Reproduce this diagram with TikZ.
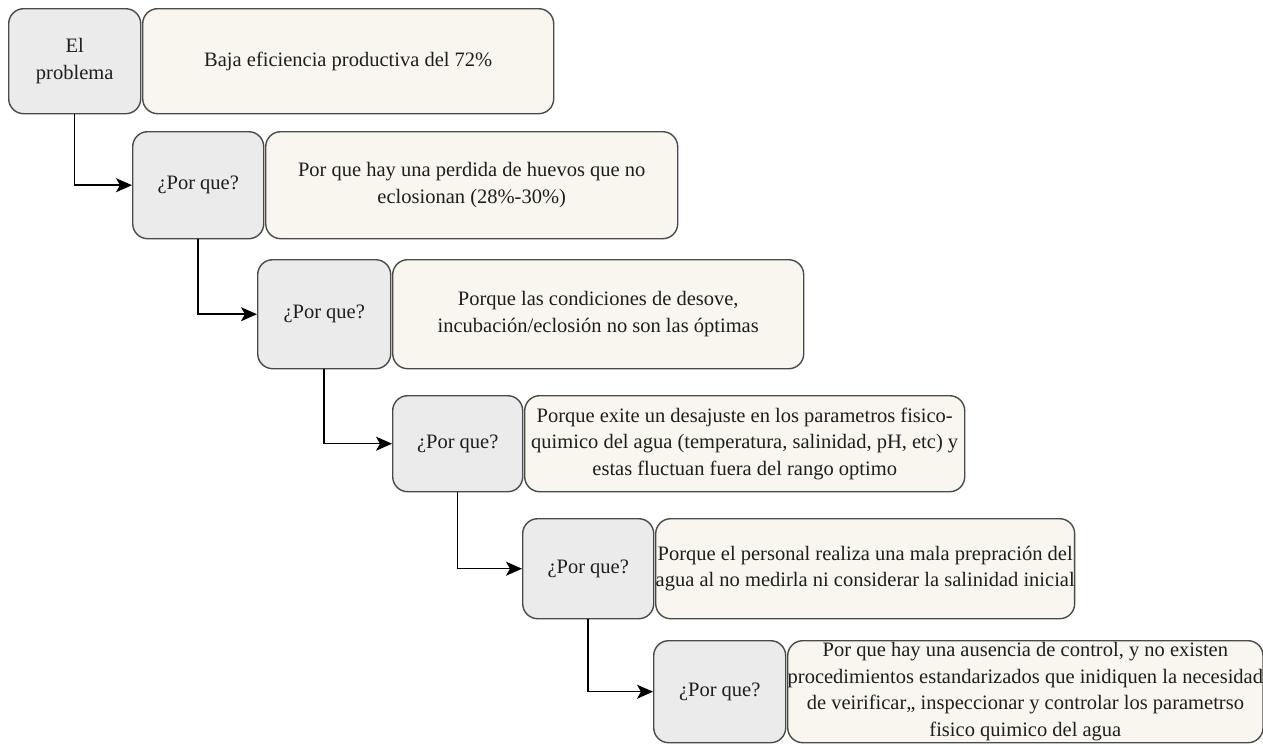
\documentclass[tikz,border=0pt]{standalone}
\usepackage{fontspec}
\setmainfont{Liberation Serif}
\usetikzlibrary{arrows.meta}

\definecolor{edge}{HTML}{4A4A4A}
\definecolor{qfill}{HTML}{EBEBEB}
\definecolor{afill}{HTML}{F9F6EF}
\definecolor{ink}{HTML}{1E1E1E}

\tikzset{
  basebox/.style={draw=edge, line width=1.4pt, rounded corners=15pt,
    anchor=north west, inner sep=0pt, align=center, text=ink,
    font=\rmfamily\fontsize{20.5}{26.5}\selectfont},
  qbox/.style={basebox, fill=qfill},
  abox/.style={basebox, fill=afill},
  link/.style={draw=black, line width=1.5pt,
    -{Stealth[length=16pt,width=14pt,inset=4pt,fill=black]}}
}

\begin{document}
\begin{tikzpicture}[x=1pt, y=-1pt]
\useasboundingbox (0,0) rectangle (1263,744);

% level 1: the problem
\node[qbox, minimum width=132, minimum height=105] (q1) at (8,8) {El\\problema};
\node[abox, minimum width=411, minimum height=105] (a1) at (142,8)
  {Baja eficiencia productiva del 72\%};

% level 2
\node[qbox, minimum width=131, minimum height=107] (q2) at (132,131) {¿Por que?};
\node[abox, minimum width=412, minimum height=107] (a2) at (265,131)
  {Por que hay una perdida de huevos que no\\eclosionan (28\%-30\%)};

% level 3
\node[qbox, minimum width=133, minimum height=109] (q3) at (257,259) {¿Por que?};
\node[abox, minimum width=411, minimum height=109] (a3) at (392,259)
  {Porque las condiciones de desove,\\incubación/eclosión no son las óptimas};

% level 4
\node[qbox, minimum width=130, minimum height=96] (q4) at (392,395) {¿Por que?};
\node[abox, minimum width=440, minimum height=96] (a4) at (524,395)
  {Porque exite un desajuste en los parametros fisico-\\quimico del agua (temperatura, salinidad, pH, etc) y\\estas fluctuan fuera del rango optimo};

% level 5
\node[qbox, minimum width=131, minimum height=100] (q5) at (522,518) {¿Por que?};
\node[abox, minimum width=412, minimum height=100] (a5) at (655,518)
  {Porque el personal realiza una mala prepración del\\agua al no medirla ni considerar la salinidad inicial};

% level 6
\node[qbox, minimum width=132, minimum height=102] (q6) at (653,640) {¿Por que?};
\node[abox, minimum width=471, minimum height=102] (a6) at (787,640)
  {Por que hay una ausencia de control, y no existen\\procedimientos estandarizados que inidiquen la necesidad\\de veirificar,, inspeccionar y controlar los parametrso\\fisico quimico del agua};

% elbow connectors between the question boxes
\draw[link] (q1.south) |- (q2.west);
\draw[link] (q2.south) |- (q3.west);
\draw[link] (q3.south) |- (q4.west);
\draw[link] (q4.south) |- (q5.west);
\draw[link] (q5.south) |- (q6.west);
\end{tikzpicture}
\end{document}
